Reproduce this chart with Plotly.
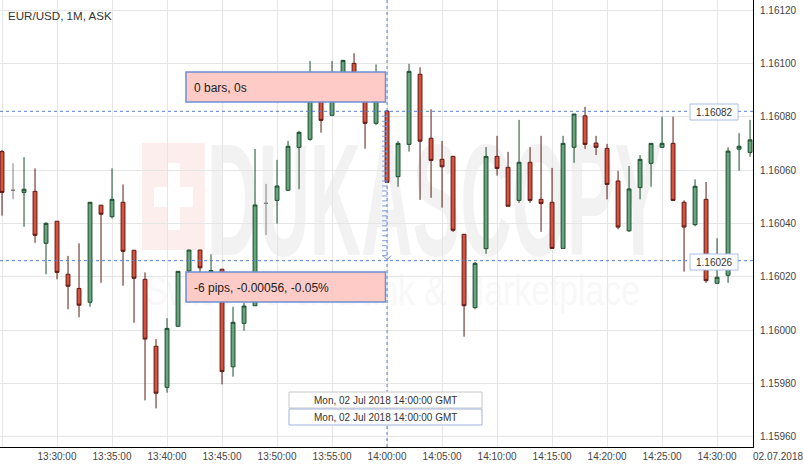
import base64
import pandas as pd
import plotly.graph_objects as go

# ---------------- data (EUR/USD 1-minute ASK candles, 02.07.2018) ----------------
times = pd.date_range("2018-07-02 13:25:00", "2018-07-02 14:33:00", freq="1min").strftime("%Y-%m-%d %H:%M:%S").tolist()

opens = [1.160669, 1.160524, 1.160516, 1.160520, 1.160325, 1.160408, 1.160209, 1.160156, 1.160104, 1.160468,
         1.160425, 1.160479, 1.160299, 1.160190, 1.159939, 1.159785, 1.160014, 1.160221, 1.160300, 1.160218,
         1.160228, 1.159862, 1.160025, 1.160091, 1.160475, 1.160486, 1.160524, 1.160685, 1.160715, 1.160893,
         1.160805, 1.160908, 1.161000, 1.160870, 1.160775, 1.160821, 1.160575, 1.160696, 1.160959, 1.160719,
         1.160640, 1.160651, 1.160359, 1.160084, 1.160305, 1.160651, 1.160610, 1.160486, 1.160629, 1.160490,
         1.160479, 1.160306, 1.160685, 1.160803, 1.160701, 1.160681, 1.160559, 1.160372, 1.160534, 1.160625,
         1.160685, 1.160700, 1.160479, 1.160395, 1.160490, 1.160175, 1.160205, 1.160678, 1.160666]
highs = [1.160675, 1.160625, 1.160648, 1.160606, 1.160404, 1.160408, 1.160278, 1.160325, 1.160480, 1.160469,
         1.160606, 1.160546, 1.160300, 1.160216, 1.159966, 1.160044, 1.160221, 1.160300, 1.160300, 1.160284,
         1.160229, 1.160087, 1.160103, 1.160679, 1.160548, 1.160638, 1.160709, 1.160747, 1.161009, 1.160919,
         1.161009, 1.161013, 1.161038, 1.160893, 1.160996, 1.160825, 1.160709, 1.160998, 1.160985, 1.160828,
         1.160709, 1.160653, 1.160360, 1.160255, 1.160686, 1.160728, 1.160668, 1.160788, 1.160686, 1.160728,
         1.160608, 1.160728, 1.160810, 1.160837, 1.160728, 1.160698, 1.160597, 1.160615, 1.160656, 1.160700,
         1.160800, 1.160800, 1.160486, 1.160565, 1.160555, 1.160344, 1.160685, 1.160738, 1.160788]
lows = [1.160429, 1.160490, 1.160387, 1.160327, 1.160209, 1.160190, 1.160078, 1.160048, 1.160087, 1.160177,
        1.160419, 1.160166, 1.160027, 1.159736, 1.159706, 1.159765, 1.160011, 1.160206, 1.160218, 1.160169,
        1.159796, 1.159825, 1.159997, 1.160090, 1.160356, 1.160399, 1.160521, 1.160528, 1.160710, 1.160740,
        1.160803, 1.160881, 1.160863, 1.160680, 1.160769, 1.160554, 1.160537, 1.160669, 1.160488, 1.160496,
        1.160459, 1.160368, 1.159975, 1.160078, 1.160286, 1.160579, 1.160464, 1.160477, 1.160477, 1.160368,
        1.160306, 1.160306, 1.160627, 1.160679, 1.160656, 1.160490, 1.160378, 1.160368, 1.160490, 1.160537,
        1.160685, 1.160486, 1.160219, 1.160389, 1.160177, 1.160175, 1.160177, 1.160597, 1.160650]
closes = [1.160516, 1.160524, 1.160528, 1.160355, 1.160400, 1.160216, 1.160164, 1.160093, 1.160479, 1.160434,
          1.160490, 1.160295, 1.160194, 1.159966, 1.159763, 1.160006, 1.160220, 1.160300, 1.160233, 1.160223,
          1.159844, 1.160029, 1.160090, 1.160469, 1.160475, 1.160540, 1.160689, 1.160741, 1.160900, 1.160786,
          1.160945, 1.161011, 1.160881, 1.160775, 1.160881, 1.160554, 1.160700, 1.160970, 1.160708, 1.160636,
          1.160612, 1.160374, 1.160091, 1.160250, 1.160651, 1.160606, 1.160464, 1.160629, 1.160486, 1.160474,
          1.160306, 1.160700, 1.160810, 1.160696, 1.160685, 1.160546, 1.160386, 1.160529, 1.160640, 1.160700,
          1.160700, 1.160486, 1.160386, 1.160539, 1.160185, 1.160198, 1.160671, 1.160689, 1.160713]

title_text = "EUR/USD, 1M, ASK"
date_label = "02.07.2018"
cursor_time = "2018-07-02 14:00:00"
cursor_label = "Mon, 02 Jul 2018 14:00:00 GMT"
measure_from = 1.16082
measure_to = 1.16026
bars_text = "0 bars, 0s"

# ---------------- figure ----------------
W, H = 753, 447          # plot area in pixels
def px(x):
    return x / W
def py(y):
    return 1 - y / H

GREEN_FILL, GREEN_LINE = "#68a47e", "#1b4d2c"
RED_FILL, RED_LINE = "#d9513f", "#5e1810"

normal = [i for i in range(len(times)) if opens[i] != closes[i]]
doji = [i for i in range(len(times)) if opens[i] == closes[i]]

def sub(arr, idx):
    return [arr[i] for i in idx]

fig = go.Figure()
fig.add_trace(go.Candlestick(
    x=sub(times, normal), open=sub(opens, normal), high=sub(highs, normal),
    low=sub(lows, normal), close=sub(closes, normal),
    increasing=dict(fillcolor=GREEN_FILL, line=dict(color=GREEN_LINE, width=1)),
    decreasing=dict(fillcolor=RED_FILL, line=dict(color=RED_LINE, width=1)),
    showlegend=False, hoverinfo="skip"))
fig.add_trace(go.Candlestick(
    x=sub(times, doji), open=sub(opens, doji), high=sub(highs, doji),
    low=sub(lows, doji), close=sub(closes, doji),
    increasing=dict(fillcolor="#888888", line=dict(color="#808080", width=1)),
    decreasing=dict(fillcolor="#888888", line=dict(color="#808080", width=1)),
    showlegend=False, hoverinfo="skip"))

# watermark as svg image (below grid)
svg = f'''<svg xmlns="http://www.w3.org/2000/svg" width="{W}" height="{H}" viewBox="0 0 {W} {H}">
<rect x="142" y="143" width="63" height="107" fill="#fdeeee"/>
<rect x="167" y="163" width="13" height="67" fill="#ffffff"/>
<rect x="154" y="187" width="39" height="20" fill="#ffffff"/>
<text x="207" y="255" font-family="Liberation Sans Narrow, Liberation Sans, Arial" font-weight="bold" font-size="160" textLength="455" lengthAdjust="spacingAndGlyphs" fill="#f2f2f2">DUKASCOPY</text>
<text x="145" y="305" font-family="Liberation Sans, Arial" font-size="42" textLength="495" lengthAdjust="spacingAndGlyphs" fill="#f8f8f8">Swiss Forex Bank &amp; Marketplace</text>
</svg>'''
src = "data:image/svg+xml;base64," + base64.b64encode(svg.encode()).decode()

BLUE = "#5a7fd2"
shapes = []
# crosshair / measure lines
shapes.append(dict(type="line", xref="x", yref="paper", x0=cursor_time, x1=cursor_time, y0=0, y1=1,
                   line=dict(color=BLUE, width=1, dash="3px,3px")))
for lvl in (measure_from, measure_to):
    shapes.append(dict(type="line", xref="paper", yref="y", x0=0, x1=1, y0=lvl, y1=lvl,
                       line=dict(color=BLUE, width=1, dash="3px,3px")))
# ruler ticks along the measurement
nt = 30
for k in range(1, nt):
    lv = measure_from + (measure_to - measure_from) * k / nt
    shapes.append(dict(type="line", xref="x", yref="y", xsizemode="pixel", xanchor=cursor_time,
                       x0=-5, x1=0, y0=lv, y1=lv, line=dict(color="#7a9ae0", width=1)))
shapes.append(dict(type="path", xref="x", yref="y", xsizemode="pixel", ysizemode="pixel",
                   xanchor=cursor_time, yanchor=measure_to, path="M-4,5 L0,1 L4,5",
                   line=dict(color="#7a9ae0", width=1)))
# pink info boxes
for (y0, y1) in ((72, 102), (272, 302)):
    shapes.append(dict(type="rect", xref="paper", yref="paper", x0=px(186), x1=px(385.5), y0=py(y1), y1=py(y0),
                       fillcolor="#ffcbc6", line=dict(color="#6d8fd4", width=1.5)))
# price labels on right
for (y0, y1) in ((104, 120), (254, 270)):
    shapes.append(dict(type="rect", xref="paper", yref="paper", x0=px(690), x1=px(738), y0=py(y1), y1=py(y0),
                       fillcolor="white", line=dict(color="#aabde6", width=1)))
# date boxes
shapes.append(dict(type="rect", xref="paper", yref="paper", x0=px(289), x1=px(482), y0=py(408), y1=py(392),
                   fillcolor="white", line=dict(color="#c8c8c8", width=1)))
shapes.append(dict(type="rect", xref="paper", yref="paper", x0=px(289), x1=px(482), y0=py(425), y1=py(409),
                   fillcolor="white", line=dict(color="#9fb2de", width=1)))

pips = round((measure_to - measure_from) * 10000)
diff = measure_to - measure_from
pct = diff / measure_from * 100
measure_text = f"{pips} pips, {diff:.5f}, {pct:.2f}%"

FONT = "Arial, Liberation Sans, sans-serif"
ann = []
ann.append(dict(text=title_text, xref="paper", yref="paper", x=px(6), y=py(16), xanchor="left", yanchor="middle",
                showarrow=False, font=dict(family=FONT, size=11.6, color="#333333")))
ann.append(dict(text=bars_text, xref="paper", yref="paper", x=px(192), y=py(87.5), xanchor="left", yanchor="middle",
                showarrow=False, font=dict(family=FONT, size=12, color="#222222")))
ann.append(dict(text=measure_text, xref="paper", yref="paper", x=px(192), y=py(287.5), xanchor="left", yanchor="middle",
                showarrow=False, font=dict(family=FONT, size=12, color="#222222")))
ann.append(dict(text=f"{measure_from:.5f}", xref="paper", yref="paper", x=px(714), y=py(112), xanchor="center", yanchor="middle",
                showarrow=False, font=dict(family=FONT, size=10, color="#333333")))
ann.append(dict(text=f"{measure_to:.5f}", xref="paper", yref="paper", x=px(714), y=py(262), xanchor="center", yanchor="middle",
                showarrow=False, font=dict(family=FONT, size=10, color="#333333")))
ann.append(dict(text=cursor_label, xref="paper", yref="paper", x=px(385.5), y=py(400), xanchor="center", yanchor="middle",
                showarrow=False, font=dict(family=FONT, size=10, color="#333333")))
ann.append(dict(text=cursor_label, xref="paper", yref="paper", x=px(385.5), y=py(417), xanchor="center", yanchor="middle",
                showarrow=False, font=dict(family=FONT, size=10, color="#333333")))
ann.append(dict(text=date_label, xref="paper", yref="paper", x=px(778), y=py(456), xanchor="center", yanchor="middle",
                showarrow=False, font=dict(family=FONT, size=10, color="#444444")))

fig.update_layout(
    width=803, height=467,
    margin=dict(l=0, r=50, t=0, b=20, pad=0),
    paper_bgcolor="white", plot_bgcolor="rgba(0,0,0,0)",
    boxgap=0.5,
    showlegend=False,
    images=[dict(source=src, xref="paper", yref="paper", x=0, y=1, sizex=1, sizey=1,
                 xanchor="left", yanchor="top", sizing="stretch", layer="below")],
    shapes=shapes,
    annotations=ann,
    xaxis=dict(type="date", range=["2018-07-02 13:24:49", "2018-07-02 14:33:16"],
               rangeslider=dict(visible=False), tickformat="%H:%M:%S",
               tick0="2018-07-02 13:00:00", dtick=300000,
               showgrid=True, gridcolor="#e5e5e5", gridwidth=1,
               showline=True, linecolor="#000000", linewidth=1, zeroline=False,
               ticks="", tickfont=dict(family=FONT, size=10, color="#444444")),
    yaxis=dict(side="right", range=[1.1595613, 1.1612375], tickformat=".5f",
               tick0=1.16, dtick=0.0002, showgrid=True, gridcolor="#e5e5e5", gridwidth=1,
               showline=True, linecolor="#000000", linewidth=1, zeroline=False,
               ticks="", ticklabelstandoff=4, tickfont=dict(family=FONT, size=10, color="#444444")),
)

fig.write_html("out.html", config={"displayModeBar": False},
               post_script="document.body.style.margin='0';document.body.style.overflow='hidden';")
